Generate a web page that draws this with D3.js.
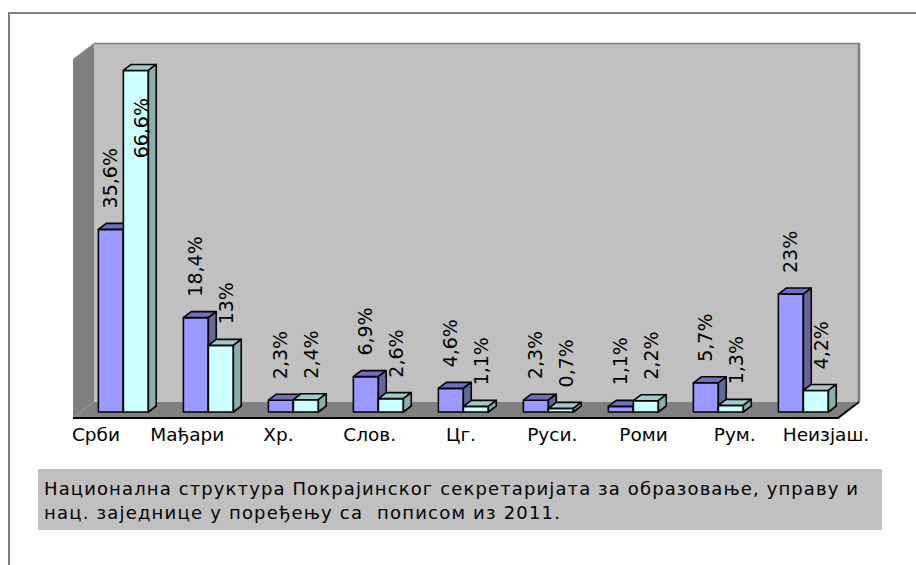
<!DOCTYPE html>
<html>
<head>
<meta charset="utf-8">
<script src="https://cdn.jsdelivr.net/npm/d3@7"></script>
<style>
  html, body { margin: 0; padding: 0; background: #ffffff; }
  svg { display: block; }
  text { font-family: "DejaVu Sans", Verdana, sans-serif; }
</style>
</head>
<body>
<svg id="chart" width="916" height="565"></svg>
<script>
// ---------- data ----------
const categories = ["Срби", "Мађари", "Хр.", "Слов.", "Цг.", "Руси.", "Роми", "Рум.", "Неизјаш."];
const seriesNames = ["Покрајински секретаријат", "Попис 2011"];
const secretariatValues = [35.6, 18.4, 2.3, 6.9, 4.6, 2.3, 1.1, 5.7, 23];
const censusValues = [66.6, 13, 2.4, 2.6, 1.1, 0.7, 2.2, 1.3, 4.2];
const secretariatLabels = ["35,6%", "18,4%", "2,3%", "6,9%", "4,6%", "2,3%", "1,1%", "5,7%", "23%"];
const censusLabels = ["66,6%", "13%", "2,4%", "2,6%", "1,1%", "0,7%", "2,2%", "1,3%", "4,2%"];
const captionLines = [
  "Национална структура Покрајинског секретаријата за образовање, управу и",
  "нац. заједнице у поређењу са  пописом из 2011."
];
const yMax = 70;

// ---------- layout ----------
const svg = d3.select("#chart");
const floorFrontY = 418;
const depth = { dx: 21, dy: -16 };
const barDepthStart = 0.375, barDepthEnd = 0.75;
const xLeft = 73, xRight = 838;

const x = d3.scaleBand().domain(categories).range([xLeft, xRight])
  .paddingInner(0.4118).paddingOuter(0.2059);
const xSub = d3.scaleBand().domain(seriesNames).range([0, x.bandwidth()]);
const y = d3.scaleLinear().domain([0, yMax]).range([floorFrontY, floorFrontY - 359]);
const xLabel = d3.scalePoint().domain(categories).range([96, 826]);

const colors = {
  [seriesNames[0]]: { front: "#9999ff", top: "#6f6fc0", side: "#666699" },
  [seriesNames[1]]: { front: "#ccffff", top: "#9fcaca", side: "#88aeae" }
};

// outer frame
svg.append("rect").attr("x", 9).attr("y", 13).attr("width", 940).attr("height", 600)
  .attr("fill", "none").attr("stroke", "#808080").attr("stroke-width", 2);

// walls
const yTop0 = y(yMax);
const bx0 = xLeft + depth.dx, bx1 = xRight + depth.dx;
const pts = a => a.map(p => p.join(",")).join(" ");
svg.append("polygon")
  .attr("points", pts([[xLeft, yTop0], [bx0, yTop0 + depth.dy], [bx0, floorFrontY + depth.dy], [xLeft, floorFrontY]]))
  .attr("fill", "#808080");
svg.append("rect").attr("x", bx0).attr("y", yTop0 + depth.dy)
  .attr("width", bx1 - bx0).attr("height", floorFrontY - yTop0)
  .attr("fill", "#c0c0c0");
svg.append("line").attr("x1", bx0).attr("x2", bx1).attr("y1", yTop0 + depth.dy + 0.5).attr("y2", yTop0 + depth.dy + 0.5)
  .attr("stroke", "#808080").attr("stroke-width", 1.5);
svg.append("line").attr("x1", bx1).attr("x2", bx1).attr("y1", yTop0 + depth.dy).attr("y2", floorFrontY + depth.dy)
  .attr("stroke", "#808080").attr("stroke-width", 2.5);
svg.append("polygon")
  .attr("points", pts([[xLeft, floorFrontY], [xRight, floorFrontY], [bx1, floorFrontY + depth.dy], [bx0, floorFrontY + depth.dy]]))
  .attr("fill", "#808080");
svg.append("polyline")
  .attr("points", pts([[xLeft, floorFrontY], [xRight, floorFrontY], [bx1, floorFrontY + depth.dy]]))
  .attr("fill", "none").attr("stroke", "#000").attr("stroke-width", 2);

// bars
const fdx = depth.dx * barDepthStart, fdy = depth.dy * barDepthStart;
const bdx = depth.dx * (barDepthEnd - barDepthStart), bdy = depth.dy * (barDepthEnd - barDepthStart);
const baseY = floorFrontY + fdy;

const barData = [];
categories.forEach((c, i) => {
  barData.push({ cat: c, s: seriesNames[0], v: secretariatValues[i], label: secretariatLabels[i], lx: -1 });
  barData.push({ cat: c, s: seriesNames[1], v: censusValues[i], label: censusLabels[i], lx: 5 });
});

const w = xSub.bandwidth();
const bars = svg.append("g").selectAll("g").data(barData).join("g");
bars.each(function(d) {
  const g = d3.select(this);
  const x0 = x(d.cat) + xSub(d.s) + fdx;
  const yt = y(d.v) + fdy;
  const col = colors[d.s];
  const common = s => s.attr("stroke", "#000").attr("stroke-width", 1.6).attr("stroke-linejoin", "round");
  g.append("polygon").attr("points", pts([[x0, baseY], [x0, yt], [x0 + w, yt], [x0 + w, baseY]]))
    .attr("fill", col.front).call(common);
  g.append("polygon").attr("points", pts([[x0, yt], [x0 + w, yt], [x0 + w + bdx, yt + bdy], [x0 + bdx, yt + bdy]]))
    .attr("fill", col.top).call(common);
  g.append("polygon").attr("points", pts([[x0 + w, yt], [x0 + w + bdx, yt + bdy], [x0 + w + bdx, baseY + bdy], [x0 + w, baseY]]))
    .attr("fill", col.side).call(common);
});

// value labels (rotated)
const labels = svg.append("g").selectAll("text").data(barData).join("text")
  .attr("font-size", 19).attr("fill", "#000")
  .attr("text-anchor", "start").attr("dy", "0.36em")
  .text(d => d.label);
labels.each(function(d) {
  const len = this.getComputedTextLength();
  const cx = x(d.cat) + xSub(d.s) + fdx + w / 2 + d.lx;
  let start = y(d.v) + fdy - 21;
  if (start - len < 98) start = 98 + len;
  d3.select(this).attr("transform", `translate(${cx},${start}) rotate(-90)`);
});

// category labels
svg.append("g").selectAll("text").data(categories).join("text")
  .attr("x", d => xLabel(d)).attr("y", 441)
  .attr("text-anchor", "middle").attr("font-size", 18.5).attr("fill", "#000")
  .text(d => d);

// caption
const captionWidths = [814, 516];
svg.append("rect").attr("x", 38).attr("y", 469).attr("width", 844).attr("height", 61).attr("fill", "#c0c0c0");
svg.append("g").selectAll("text").data(captionLines).join("text")
  .attr("x", 44).attr("y", (d, i) => 495 + i * 24)
  .attr("font-size", 18).attr("fill", "#000")
  .attr("xml:space", "preserve").style("white-space", "pre")
  .attr("textLength", (d, i) => captionWidths[i]).attr("lengthAdjust", "spacing")
  .text(d => d);
</script>
</body>
</html>
